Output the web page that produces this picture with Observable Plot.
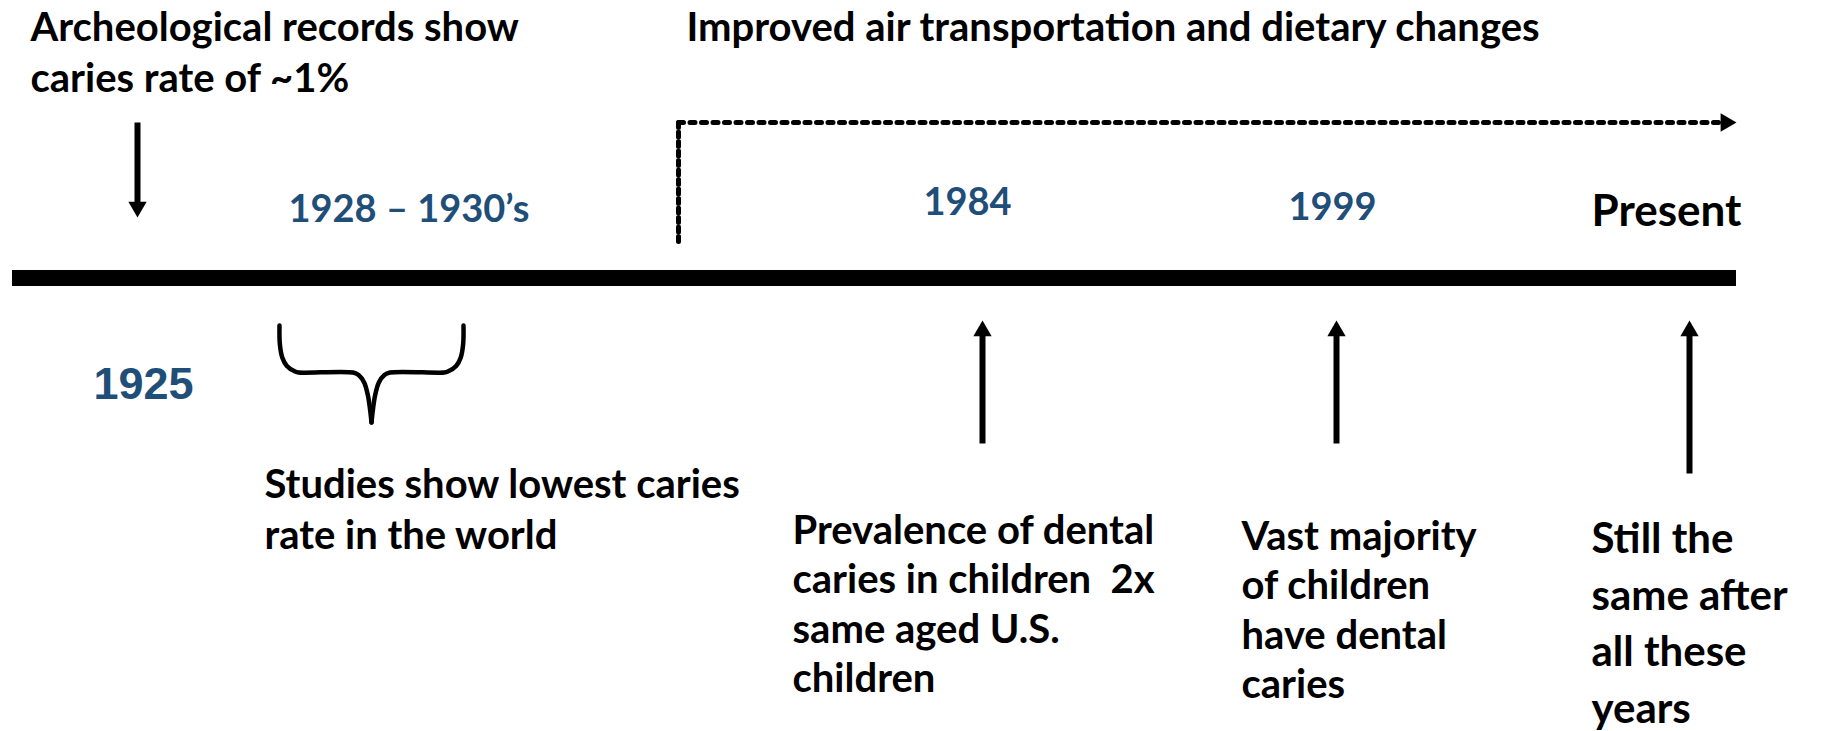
<!DOCTYPE html>
<html>
<head>
<meta charset="utf-8">
<script src="https://cdn.jsdelivr.net/npm/d3@7"></script>
<script src="https://cdn.jsdelivr.net/npm/@observablehq/plot@0.6"></script>
<style>
  html, body { margin: 0; padding: 0; background: #fff; }
  svg { display: block; }
  svg text { white-space: pre; }
</style>
</head>
<body>
<div id="chart"></div>
<script>
// ---------- content ----------
const labelTexts = [
  "Archeological records show\ncaries rate of ~1%",
  "Improved air transportation and dietary changes",
  "1925",
  "1928 – 1930’s",
  "1984",
  "1999",
  "Present",
  "Studies show lowest caries\nrate in the world",
  "Prevalence of dental\ncaries in children  2x\nsame aged U.S.\nchildren",
  "Vast majority\nof children\nhave dental\ncaries",
  "Still the\nsame after\nall these\nyears"
];
const labelRoles = ["note", "note", "yearArial", "year", "year", "year", "present", "note", "note", "note", "big"];

// ---------- layout (pixel frame) ----------
const W = 1822, H = 731;
const labelX   = [30, 686, 93, 288, 923, 1288, 1591, 264, 792, 1241, 1591];
const labelTop = [12, 12, 367, 195, 188, 193, 194, 469, 515, 521, 523];
const lineGap  = [51, 51, 0, 0, 0, 0, 0, 51, 49.5, 49.5, 56.5];

const roleStyle = {
  note:      {fontFamily: "Lato", fontSize: 40, fill: "#000"},
  big:       {fontFamily: "Lato", fontSize: 42, fill: "#000"},
  present:   {fontFamily: "Lato", fontSize: 44, fill: "#000"},
  year:      {fontFamily: "Lato", fontSize: 38, fill: "#1f4e79"},
  yearArial: {fontFamily: "Liberation Sans", fontSize: 45, fill: "#1f4e79"}
};

const timeline = {x1: 12, x2: 1736, y1: 270, y2: 286};

// arrows: x, tail y, tip y
const arrowX    = [137, 982, 1336, 1689];
const arrowTail = [122, 443, 443, 473];
const arrowTip  = [217, 320, 320, 320];

// dotted connector path (vertical then horizontal) and its tip
const connX = [678, 678, 1720];
const connY = [241, 122, 122];
const connTip = {x: 1736, y: 122};

// brace: left x, right x, top y, bar y, tip y
const brace = {x1: 279, x2: 463, top: 325, mid: 372, tip: 422};

// ---------- derived mark data ----------
const lines = [];
labelTexts.forEach((t, g) => {
  t.split("\n").forEach((s, i) => {
    lines.push({text: s, role: labelRoles[g], x: labelX[g], y: labelTop[g] + i * lineGap[g]});
  });
});

const headR = 6.8;
const headSize = Math.PI * headR * headR;
const tipOff = 2 * Math.sqrt(headSize / (Math.sqrt(3) * 3));

const shafts = arrowX.map((x, i) => {
  const dir = Math.sign(arrowTip[i] - arrowTail[i]);
  return {x, y1: arrowTail[i], y2: arrowTip[i] - dir * tipOff};
});
const heads = arrowX.map((x, i) => {
  const dir = Math.sign(arrowTip[i] - arrowTail[i]);
  return {x, y: arrowTip[i] - dir * tipOff, rotate: dir > 0 ? 180 : 0};
});
const connPts = connX.map((x, i) => ({x, y: connY[i]}));
const vertSeg = connPts.slice(0, 2);
const horzSeg = connPts.slice(1);
const connHead = [{x: connTip.x - tipOff, y: connTip.y, rotate: 90}];

function braceHalf(side) {
  const {x1, x2, top, mid, tip} = brace;
  const cx = (x1 + x2) / 2;
  const h = cx - x1;
  // relative shape of a curly-brace half: fx along half width, fy in [0,1] top->bar, [1,2] bar->tip
  const rel = [
    [0, 0], [0.004, 0.4], [0.03, 0.68], [0.08, 0.86], [0.17, 0.98], [0.21, 1],
    [0.80, 1], [0.86, 1.05], [0.92, 1.2], [0.96, 1.45], [0.985, 1.75], [1, 2]
  ];
  return rel.map(([fx, fy]) => ({
    x: side < 0 ? x1 + fx * h : x2 - fx * h,
    y: fy <= 1 ? top + fy * (mid - top) : mid + (fy - 1) * (tip - mid),
    side
  }));
}
const braceData = [...braceHalf(-1), ...braceHalf(1)];

const textMarks = Object.entries(roleStyle).map(([role, st]) =>
  Plot.text(lines.filter(d => d.role === role), {
    x: "x", y: "y", text: "text",
    textAnchor: "start", lineAnchor: "top",
    fontFamily: st.fontFamily, fontSize: st.fontSize, fontWeight: "bold", fill: st.fill
  })
);

const chart = Plot.plot({
  width: W, height: H, margin: 0,
  x: {domain: [0, W], range: [0, W], axis: null},
  y: {domain: [0, H], range: [0, H], axis: null},
  style: {background: "#fff", overflow: "visible"},
  marks: [
    Plot.rect([timeline], {x1: "x1", x2: "x2", y1: "y1", y2: "y2", fill: "#000"}),
    Plot.link(shafts, {x1: "x", x2: "x", y1: "y1", y2: "y2", stroke: "#000", strokeWidth: 6}),
    Plot.dot(heads, {x: "x", y: "y", rotate: "rotate", symbol: "triangle", r: headR, fill: "#000"}),
    Plot.line(vertSeg, {x: "x", y: "y", stroke: "#000", strokeWidth: 5, strokeDasharray: "5 4.5"}),
    Plot.line(horzSeg, {x: "x", y: "y", stroke: "#000", strokeWidth: 5, strokeDasharray: "5 6.5"}),
    Plot.dot(connHead, {x: "x", y: "y", rotate: "rotate", symbol: "triangle", r: headR, fill: "#000"}),
    Plot.line(braceData, {x: "x", y: "y", z: "side", curve: "catmull-rom", stroke: "#000", strokeWidth: 4.5, strokeLinecap: "round"}),
    ...textMarks
  ]
});
document.getElementById("chart").append(chart);
</script>
</body>
</html>
